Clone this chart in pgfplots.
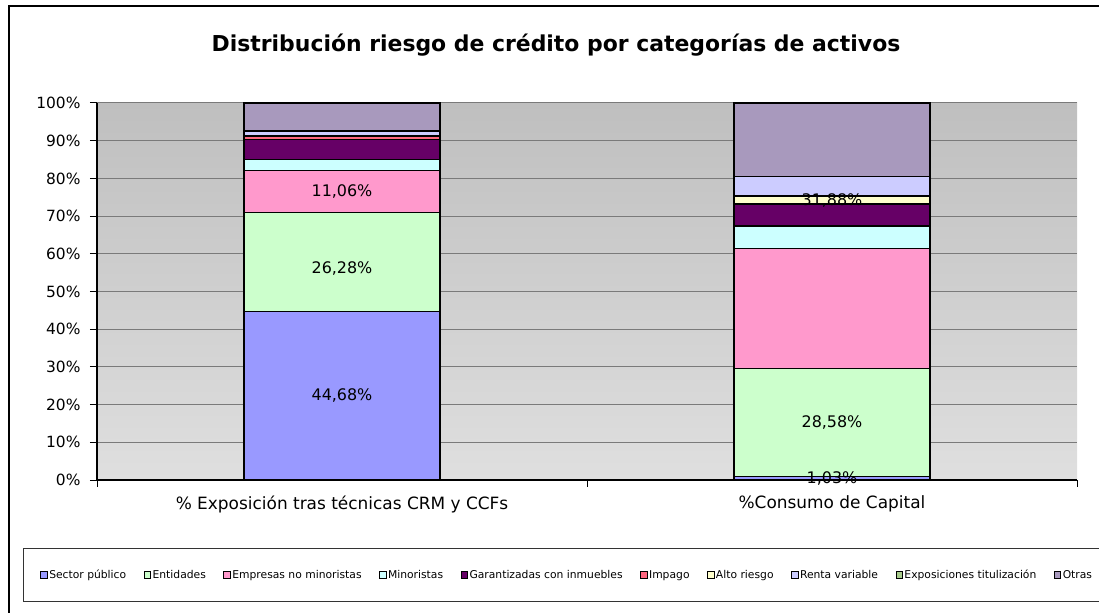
\documentclass[border=0pt]{standalone}
\usepackage{fontspec}
\setmainfont{DejaVu Sans}
\usepackage{pgfplots}
\pgfplotsset{compat=1.18}
\definecolor{cSP}{HTML}{9999FF}
\definecolor{cEnt}{HTML}{CCFFCC}
\definecolor{cEmp}{HTML}{FF99CC}
\definecolor{cMin}{HTML}{CCFFFF}
\definecolor{cGar}{HTML}{660066}
\definecolor{cImp}{HTML}{FF6680}
\definecolor{cAlt}{HTML}{FFFFCC}
\definecolor{cRV}{HTML}{CCCCFF}
\definecolor{cExp}{HTML}{A8CC8C}
\definecolor{cOtr}{HTML}{A899BD}
\definecolor{grd}{HTML}{7A7A7A}
\definecolor{bgtop}{HTML}{BFBFBF}
\definecolor{bgbot}{HTML}{DFDFDF}
\begin{document}
\begin{tikzpicture}
\useasboundingbox (0bp,0bp) rectangle (1099bp,613bp);
\draw[line width=1.3bp] (9bp,-10bp) -- (9bp,607bp) -- (1110bp,607bp);
\draw[line width=1bp, black!80] (23bp,64bp) rectangle (1110bp,11bp);
\node[anchor=base, font=\bfseries\fontsize{22}{26}\selectfont] at (556bp,561bp) {Distribución riesgo de crédito por categorías de activos};
\begin{axis}[
  at={(97bp,133bp)}, anchor=south west,
  width=980bp, height=377bp, scale only axis,
  ybar stacked, bar width=0.4,
  xmin=-0.5, xmax=1.5, ymin=0, ymax=100,
  axis x line*=bottom, axis y line*=left,
  axis line style={line width=1.2bp, black},
  axis background/.style={top color=bgtop, bottom color=bgbot},
  xtick={-0.5,0.5,1.5}, xticklabels={},
  extra x ticks={0,1},
  extra x tick labels={\% Exposición tras técnicas CRM y CCFs, \%Consumo de Capital},
  extra x tick style={major tick length=0pt, tick label style={yshift=-12bp, font=\fontsize{17}{19}\selectfont}},
  ytick={0,10,...,100},
  yticklabel={\pgfmathprintnumber{\tick}\%},
  /pgf/number format/assume math mode=true,
  yticklabel style={font=\fontsize{15.5}{18}\selectfont, xshift=-6bp},
  tick align=outside, major tick length=7bp,
  tick style={line width=1bp, black},
  ymajorgrids, grid style={grd, line width=1bp},
  every axis plot/.append style={draw=black, line width=1.2bp},
  legend columns=10,
  legend style={at={(-0.058,-0.252)}, anchor=west, draw=none, fill=none,
    font=\fontsize{10.8}{12}\selectfont, inner sep=0pt,
    nodes={inner sep=1.5bp},
    /tikz/every even column/.append style={column sep=16bp}},
  legend image code/.code={\draw[#1, draw=black, line width=0.9bp] (0bp,-3.2bp) rectangle (6.5bp,3.2bp);},
]
\addplot[fill=cSP] coordinates {(0,44.68) (1,1.03)};
\addplot[fill=cEnt] coordinates {(0,26.28) (1,28.58)};
\addplot[fill=cEmp] coordinates {(0,11.06) (1,31.88)};
\addplot[fill=cMin] coordinates {(0,3.0) (1,5.9)};
\addplot[fill=cGar] coordinates {(0,5.4) (1,5.75)};
\addplot[fill=cImp] coordinates {(0,0.8) (1,0.3)};
\addplot[fill=cAlt] coordinates {(0,0.1) (1,1.9)};
\addplot[fill=cRV] coordinates {(0,1.2) (1,5.1)};
\addplot[fill=cExp] coordinates {(0,0.1) (1,0.06)};
\addplot[fill=cOtr] coordinates {(0,7.38) (1,19.5)};
\legend{Sector público, Entidades, Empresas no minoristas, Minoristas, Garantizadas con inmuebles, Impago, Alto riesgo, Renta variable, Exposiciones titulización, Otras}
\coordinate (l1) at (axis cs:0,22.34);
\coordinate (l2) at (axis cs:0,56.2);
\coordinate (l3) at (axis cs:0,76.49);
\coordinate (l4) at (axis cs:1,15.2);
\coordinate (l5) at (axis cs:1,0.5);
\coordinate (l6) at (axis cs:1,74.2);
\end{axis}
\begin{scope}[every node/.style={font=\fontsize{16}{19}\selectfont}]
\node at (l1) {44,68\%};
\node at (l2) {26,28\%};
\node at (l3) {11,06\%};
\node at (l4) {28,58\%};
\node at (l5) {1,03\%};
\node at (l6) {31,88\%};
\end{scope}
\end{tikzpicture}
\end{document}
